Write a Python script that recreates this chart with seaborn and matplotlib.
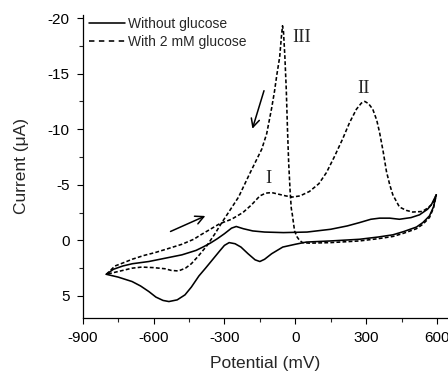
import numpy as np
import pandas as pd
import matplotlib
matplotlib.use("Agg")
import matplotlib.pyplot as plt
from matplotlib.lines import Line2D
import seaborn as sns

# ---- data (potential in mV, current in uA) ----
# Without glucose: forward scan from -800 to 600, then reverse back to -800
solid_x = [-800, -770, -730, -690, -620, -550, -480, -420, -391, -360, -330, -300,
           -270, -250, -220, -180, -130, -50, 50, 150, 220, 272, 320, 357, 400, 441,
           490, 526, 560, 576, 597,
           585, 568, 540, 513, 460, 413, 350, 272, 150, 47, 0, -53, -100, -130, -150,
           -170, -200, -230, -255, -280, -300, -320, -349, -380, -408, -440, -467, -500,
           -535, -560, -590, -620, -655, -691, -750, -800]
solid_y = [3.05, 2.6, 2.3, 2.1, 1.9, 1.6, 1.3, 0.9, 0.6, 0.25, -0.15, -0.6,
           -1.1, -1.25, -1.05, -0.85, -0.75, -0.7, -0.75, -1.0, -1.3, -1.6, -1.9, -2.0, -2.0, -1.9,
           -2.05, -2.3, -2.8, -3.2, -4.1,
           -3.0, -2.2, -1.6, -1.2, -0.8, -0.5, -0.3, -0.1, 0.05, 0.15, 0.35, 0.6, 1.2, 1.7, 1.9,
           1.75, 1.2, 0.6, 0.3, 0.2, 0.45, 0.95, 1.7, 2.5, 3.2, 4.2, 4.9, 5.35,
           5.5, 5.4, 5.1, 4.6, 4.1, 3.7, 3.3, 3.05]

# With 2 mM glucose: forward scan (peaks I, II), reverse scan (peak III)
gluc_x = [-800, -763, -720, -691, -640, -594, -540, -480, -430, -400, -360, -320,
          -270, -222, -185, -150, -125, -100, -70, -40, -12, 20, 60, 100, 132, 165,
          200, 230, 259, 280, 294, 310, 328, 345, 357, 372, 386, 400, 413, 441, 470,
          497, 538, 560, 581, 597,
          585, 568, 540, 513, 460, 413, 350, 272, 150, 60, 31, 18, 8, -3, -13, -17,
          -22, -28, -33, -38, -44, -50, -54, -58, -66, -78, -88, -100, -121, -142,
          -193, -240, -280, -311, -340, -375, -410, -440, -465, -495, -525, -552, -600,
          -650, -691, -750, -800]
gluc_y = [3.05, 2.3, 1.95, 1.7, 1.35, 1.1, 0.75, 0.35, -0.1, -0.5, -1.0, -1.5,
          -1.9, -2.5, -3.2, -4.0, -4.25, -4.3, -4.15, -4.0, -3.9, -4.0, -4.4, -5.1, -6.1, -7.5,
          -9.1, -10.6, -11.8, -12.35, -12.5, -12.3, -11.8, -10.8, -9.7, -8.0, -6.2, -5.0, -4.1, -3.0, -2.7,
          -2.55, -2.6, -2.9, -3.3, -4.1,
          -2.9, -2.05, -1.45, -1.05, -0.65, -0.35, -0.15, 0.05, 0.2, 0.25, 0.2, 0.0, -0.3, -0.85, -2.4, -2.9,
          -4.5, -7.0, -10.0, -13.5, -16.5, -18.8, -19.3, -18.5, -16.5, -14.9, -13.4, -11.9, -9.6, -8.2,
          -6.0, -3.9, -2.6, -1.6, -0.6, 0.5, 1.4, 2.1, 2.5, 2.75, 2.7, 2.55, 2.45,
          2.4, 2.5, 2.8, 3.05]

series_labels = ["Without glucose", "With 2 mM glucose"]
x_ticks = [-900, -600, -300, 0, 300, 600]
x_minor = [-750, -450, -150, 150, 450]
y_ticks = [-20, -15, -10, -5, 0, 5]
y_minor = [-17.5, -12.5, -7.5, -2.5, 2.5]
peak_labels = ["I", "II", "III"]
peak_pos = [(-112, -5.55), (291, -13.7), (27, -18.25)]

# ---- plotting ----
sns.set_style("ticks")
plt.rcParams["font.family"] = ["Liberation Sans", "DejaVu Sans"]

W, H = 448, 371
fig = plt.figure(figsize=(W / 100, H / 100), dpi=100)
ax = fig.add_axes([82.7 / W, (H - 318) / H, (W - 82.7) / W, (318 - 15) / H])

df_s = pd.DataFrame({"x": solid_x, "y": solid_y})
df_g = pd.DataFrame({"x": gluc_x, "y": gluc_y})
lw = 1.15
sns.lineplot(data=df_s, x="x", y="y", sort=False, estimator=None, color="black",
             lw=lw, ax=ax)
sns.lineplot(data=df_g, x="x", y="y", sort=False, estimator=None, color="black",
             lw=lw, ax=ax)
ax.lines[-1].set_dashes((2.4, 1.4))

ax.set_xlim(-900, 646.6)
ax.set_ylim(6.98, -20.27)
ax.set_xticks(x_ticks)
ax.set_xticks(x_minor, minor=True)
ax.set_yticks(y_ticks)
ax.set_yticks(y_minor, minor=True)
ax.set_xticklabels([str(v) for v in x_ticks])
ax.set_yticklabels([str(v) for v in y_ticks])
ax.tick_params(axis="both", which="major", direction="out", length=4.5, width=0.8,
               labelsize=11, pad=5, colors="black")
ax.tick_params(axis="both", which="minor", direction="out", length=2.8, width=0.8)

for s in ["top", "right"]:
    ax.spines[s].set_visible(False)
for s in ["left", "bottom"]:
    ax.spines[s].set_linewidth(0.9)
    ax.spines[s].set_color("black")

ax.set_xlabel("Potential (mV)", fontsize=12.5, labelpad=8)
ax.set_ylabel("Current (\u03bcA)", fontsize=12.5, labelpad=13)

for lab, (px, py) in zip(peak_labels, peak_pos):
    ax.text(px, py, lab, fontsize=13.5, family=["Liberation Serif", "DejaVu Serif"],
            ha="center", va="center")

# scan direction arrows
ax.annotate("", xy=(-370, -2.3), xytext=(-539, -0.7),
            arrowprops=dict(arrowstyle="->", lw=1.1, color="black", mutation_scale=15))
ax.annotate("", xy=(-185, -9.8), xytext=(-129, -13.7),
            arrowprops=dict(arrowstyle="->", lw=1.1, color="black", mutation_scale=15))

handles = [Line2D([], [], color="black", lw=lw),
           Line2D([], [], color="black", lw=lw, dashes=(3.4, 2.8))]
ax.legend(handles, series_labels, loc="upper left", bbox_to_anchor=(0.017, 0.993),
          frameon=False, fontsize=10, handlelength=2.6, handletextpad=0.2,
          labelspacing=0.3, borderpad=0, borderaxespad=0)

fig.savefig("out.png", dpi=100)
